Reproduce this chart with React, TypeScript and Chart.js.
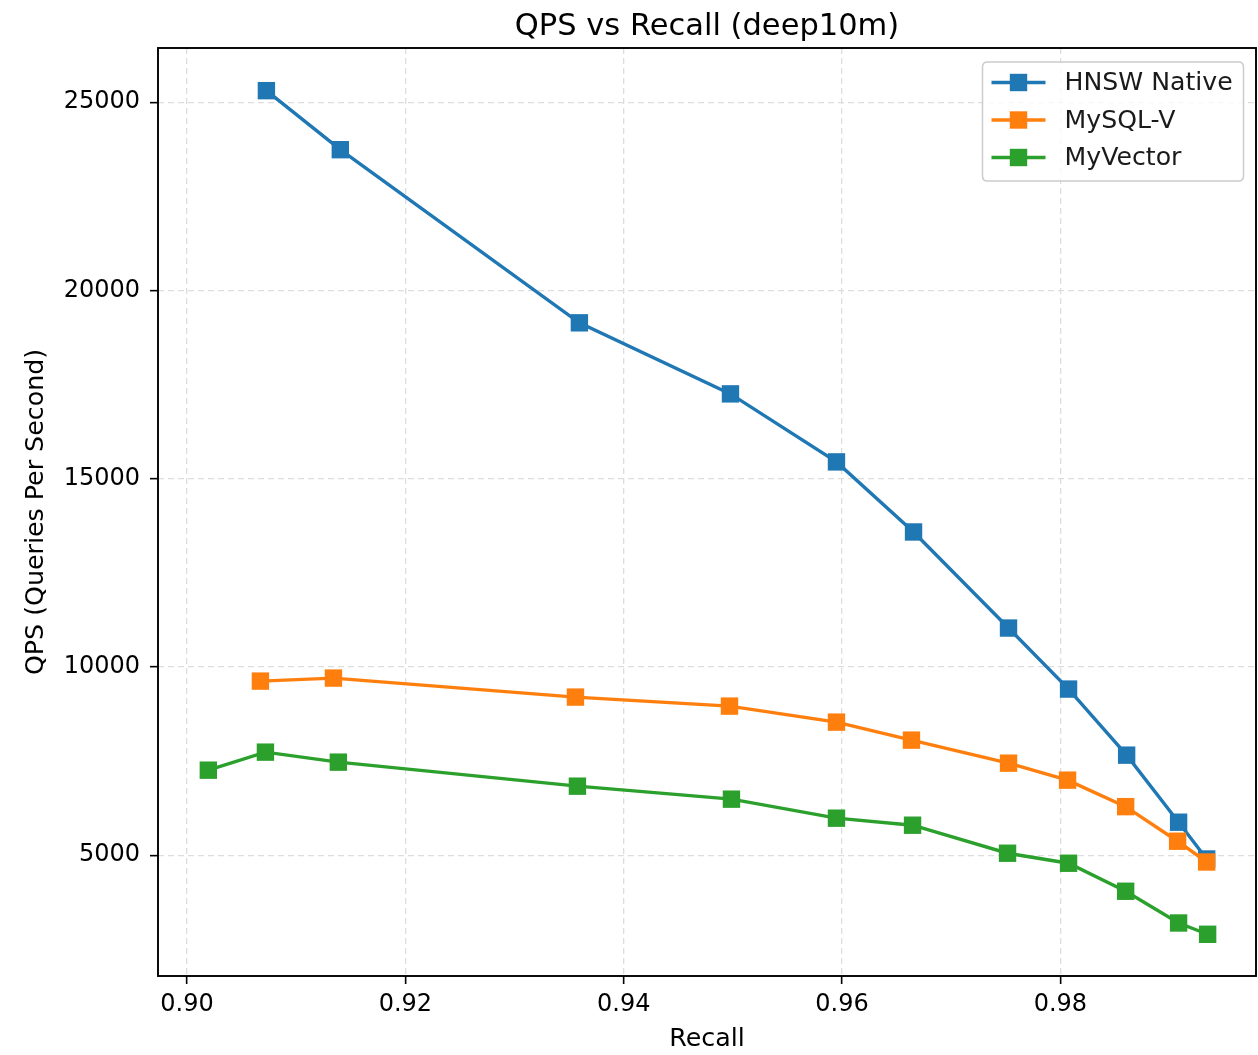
import React, { useEffect, useRef } from "react";
import { Chart, registerables } from "chart.js";

Chart.register(...registerables);

const chartTitle = "QPS vs Recall (deep10m)";
const seriesNames = ["HNSW Native", "MySQL-V", "MyVector"];
const seriesColors = ["#1f77b4", "#ff7f0e", "#2ca02c"];

const recallHNSW = [0.90727, 0.91404, 0.93594, 0.94978, 0.95949, 0.96655, 0.97525, 0.98075, 0.98607, 0.99083, 0.9934];
const qpsHNSW = [25308, 23740, 19141, 17254, 15447, 13586, 11034, 9413, 7658, 5877, 4900];

const recallMySQL = [0.90672, 0.91341, 0.93558, 0.94969, 0.95949, 0.96636, 0.97525, 0.98066, 0.98598, 0.99074, 0.9934];
const qpsMySQL = [9625, 9705, 9200, 8961, 8535, 8057, 7445, 6994, 6290, 5372, 4820];

const recallMyVector = [0.90195, 0.90718, 0.91386, 0.93576, 0.94987, 0.95949, 0.96646, 0.97516, 0.98075, 0.98598, 0.99083, 0.99349];
const qpsMyVector = [7259, 7738, 7472, 6834, 6489, 5984, 5797, 5053, 4787, 4043, 3200, 2900];

const xTicks = [0.9, 0.92, 0.94, 0.96, 0.98];
const yTicks = [5000, 10000, 15000, 20000, 25000];

const xMin = 0.89734;
const xMax = 0.99792;
const yMin = 1792;
const yMax = 26441;

const FONT = "'DejaVu Sans', sans-serif";

function toPoints(xs: number[], ys: number[]) {
  return xs.map((x, i) => ({ x, y: ys[i] }));
}

const framePlugin = {
  id: "frameAndLegend",
  afterDatasetsDraw(chart: any) {
    const { ctx, chartArea } = chart;
    const { left, right, top, bottom } = chartArea;
    ctx.save();
    // spines
    ctx.strokeStyle = "#000";
    ctx.lineWidth = 1.9;
    ctx.setLineDash([]);
    ctx.strokeRect(left, top, right - left, bottom - top);

    // title centred over the plot area
    ctx.font = "30.5px " + FONT;
    ctx.fillStyle = "#000";
    ctx.textAlign = "center";
    ctx.textBaseline = "alphabetic";
    ctx.fillText(chartTitle, (left + right) / 2, 35);

    // legend
    const boxRight = right - 12.5;
    const boxTop = top + 14;
    const boxW = 261;
    const boxH = 119;
    const bx = boxRight - boxW;
    const r = 5;
    ctx.beginPath();
    ctx.moveTo(bx + r, boxTop);
    ctx.lineTo(bx + boxW - r, boxTop);
    ctx.quadraticCurveTo(bx + boxW, boxTop, bx + boxW, boxTop + r);
    ctx.lineTo(bx + boxW, boxTop + boxH - r);
    ctx.quadraticCurveTo(bx + boxW, boxTop + boxH, bx + boxW - r, boxTop + boxH);
    ctx.lineTo(bx + r, boxTop + boxH);
    ctx.quadraticCurveTo(bx, boxTop + boxH, bx, boxTop + boxH - r);
    ctx.lineTo(bx, boxTop + r);
    ctx.quadraticCurveTo(bx, boxTop, bx + r, boxTop);
    ctx.closePath();
    ctx.fillStyle = "rgba(255,255,255,0.8)";
    ctx.fill();
    ctx.strokeStyle = "#cccccc";
    ctx.lineWidth = 1.5;
    ctx.stroke();

    ctx.font = "25.2px " + FONT;
    ctx.textBaseline = "middle";
    ctx.textAlign = "left";
    seriesNames.forEach((name, i) => {
      const y = boxTop + 20.5 + i * 37.5;
      ctx.strokeStyle = seriesColors[i];
      ctx.lineWidth = 3.4;
      ctx.beginPath();
      ctx.moveTo(bx + 9, y);
      ctx.lineTo(bx + 63, y);
      ctx.stroke();
      ctx.fillStyle = seriesColors[i];
      ctx.fillRect(bx + 36 - 8.7, y - 8.7, 17.4, 17.4);
      ctx.fillStyle = "#1a1a1a";
      ctx.fillText(name, bx + 82, y + 1);
    });
    ctx.restore();
  },
};

export default function App() {
  const canvasRef = useRef<HTMLCanvasElement | null>(null);

  useEffect(() => {
    document.body.style.margin = "0";
    const canvas = canvasRef.current;
    if (!canvas) return;
    const datasets = [
      { xs: recallHNSW, ys: qpsHNSW },
      { xs: recallMySQL, ys: qpsMySQL },
      { xs: recallMyVector, ys: qpsMyVector },
    ].map((s, i) => ({
      label: seriesNames[i],
      data: toPoints(s.xs, s.ys),
      order: 3 - i,
      showLine: true,
      borderColor: seriesColors[i],
      backgroundColor: seriesColors[i],
      borderWidth: 3.4,
      pointStyle: "rect",
      pointRadius: 12.3,
      pointBorderWidth: 0,
      pointHoverRadius: 12.3,
      tension: 0,
    }));

    const gridCommon = {
      color: "#dddddd",
      lineWidth: 1.3,
      drawTicks: true,
      tickLength: 8,
      tickColor: "#000",
      tickWidth: 1.6,
      tickBorderDash: [],
    };

    const chart = new Chart(canvas, {
      type: "scatter",
      data: { datasets: datasets as any },
      plugins: [framePlugin],
      options: {
        responsive: false,
        animation: false,
        devicePixelRatio: 1,
        layout: { autoPadding: false, padding: { left: 0, right: 2, top: 48, bottom: 0 } },
        plugins: {
          legend: { display: false },
          tooltip: { enabled: false },
          title: { display: false },
        },
        scales: {
          x: {
            type: "linear",
            min: xMin,
            max: xMax,
            afterBuildTicks: (scale: any) => {
              scale.ticks = xTicks.map((v) => ({ value: v }));
            },
            afterFit: (scale: any) => {
              scale.height = 79;
              scale.paddingLeft = 0;
              scale.paddingRight = 0;
            },
            ticks: {
              color: "#000",
              font: { family: FONT, size: 24, lineHeight: 1.2 },
              padding: 6,
              maxRotation: 0,
              callback: (v: any) => Number(v).toFixed(2),
            },
            grid: gridCommon as any,
            border: { display: false, dash: [6, 4] },
            title: {
              display: true,
              text: "Recall",
              color: "#000",
              font: { family: FONT, size: 25.3, lineHeight: 1.2 },
              padding: { top: 0, bottom: 0 },
            },
          },
          y: {
            type: "linear",
            min: yMin,
            max: yMax,
            afterBuildTicks: (scale: any) => {
              scale.ticks = yTicks.map((v) => ({ value: v }));
            },
            afterFit: (scale: any) => {
              scale.width = 158;
              scale.paddingTop = 0;
              scale.paddingBottom = 0;
            },
            ticks: {
              color: "#000",
              font: { family: FONT, size: 24, lineHeight: 1.2 },
              padding: 10,
              callback: (v: any) => String(v),
            },
            grid: gridCommon as any,
            border: { display: false, dash: [6, 4] },
            title: {
              display: true,
              text: "QPS (Queries Per Second)",
              color: "#000",
              font: { family: FONT, size: 25.3, lineHeight: 1.2 },
              padding: { top: 20.8, bottom: 0 },
            },
          },
        },
      } as any,
    });
    return () => chart.destroy();
  }, []);

  return (
    <div style={{ width: 1258, height: 1055 }}>
      <canvas ref={canvasRef} width={1258} height={1055} style={{ display: "block" }} />
    </div>
  );
}
